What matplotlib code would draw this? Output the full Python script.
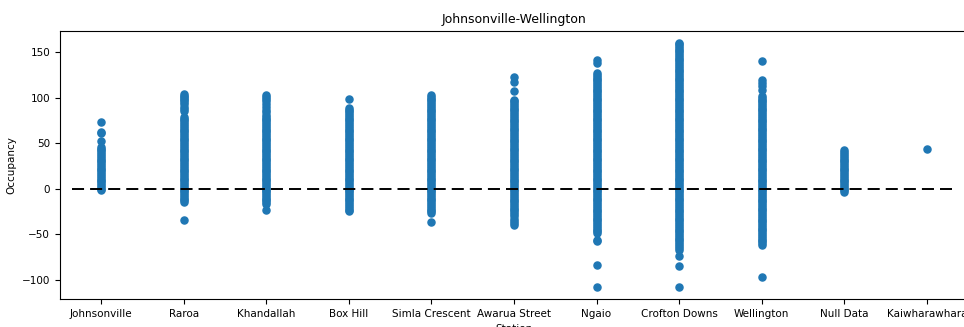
import numpy as np
import matplotlib.pyplot as plt

stations = ['Johnsonville', 'Raroa', 'Khandallah', 'Box Hill', 'Simla Crescent',
            'Awarua Street', 'Ngaio', 'Crofton Downs', 'Wellington', 'Null Data',
            'Kaiwharawhara']

# occupancy readings per station
johnsonville = [-1, 0, 2, 4, 6, 8, 10, 12, 14, 16, 18, 20, 22, 24, 26, 28, 30, 32, 34,
                36, 38, 40, 42, 44, 46, 52, 61, 62, 73]
raroa = [-34, -15, -13, -11, -9, -7, -5, -3, -1, 1, 3, 5, 7, 9, 11, 13, 15, 17, 19,
         21, 23, 25, 27, 29, 31, 33, 35, 37, 39, 41, 43, 45, 47, 49, 51, 53, 55, 57,
         59, 61, 63, 65, 67, 69, 71, 73, 75, 77, 79, 85, 88, 90, 93, 95, 97, 99, 101,
         102, 104]
khandallah = [-23, -17, -15, -13, -11, -9, -7, -5, -3, -1, 1, 3, 5, 7, 9, 11, 13, 15,
              17, 19, 21, 23, 25, 27, 29, 31, 33, 35, 37, 39, 41, 43, 45, 47, 49, 51,
              53, 55, 57, 59, 61, 63, 65, 67, 69, 71, 73, 75, 77, 79, 81, 84, 87, 90,
              93, 96, 99, 101, 103]
box_hill = [-25, -23, -21, -19, -17, -15, -13, -11, -9, -7, -5, -3, -1, 1, 3, 5, 7, 9,
            11, 13, 15, 17, 19, 21, 23, 25, 27, 29, 31, 33, 35, 37, 39, 41, 43, 45, 47,
            49, 51, 53, 55, 57, 59, 61, 63, 65, 67, 69, 71, 73, 75, 77, 79, 81, 83, 85,
            87, 89, 99]
simla_crescent = [-37, -27, -25, -23, -21, -19, -17, -15, -13, -11, -9, -7, -5, -3, -1,
                  1, 3, 5, 7, 9, 11, 13, 15, 17, 19, 21, 23, 25, 27, 29, 31, 33, 35, 37,
                  39, 41, 43, 45, 47, 49, 51, 53, 55, 57, 59, 61, 63, 65, 67, 69, 71,
                  73, 75, 77, 79, 81, 83, 85, 87, 89, 91, 93, 95, 97, 99, 101, 103]
awarua_street = [-40, -38, -36, -33, -30, -28, -26, -24, -22, -20, -18, -16, -14, -12,
                 -10, -8, -6, -4, -2, 0, 2, 4, 6, 8, 10, 12, 14, 16, 18, 20, 22, 24, 26,
                 28, 30, 32, 34, 36, 38, 40, 42, 44, 46, 48, 50, 52, 54, 56, 58, 60, 62,
                 64, 66, 68, 70, 72, 74, 76, 78, 80, 82, 84, 86, 88, 90, 92, 94, 96, 98,
                 107, 117, 123]
ngaio = [-108, -84, -58, -56, -49, -47, -45, -43, -41, -39, -37, -35, -33, -31, -29,
         -27, -25, -23, -21, -19, -17, -15, -13, -11, -9, -7, -5, -3, -1, 1, 3, 5, 7,
         9, 11, 13, 15, 17, 19, 21, 23, 25, 27, 29, 31, 33, 35, 37, 39, 41, 43, 45, 47,
         49, 51, 53, 55, 57, 59, 61, 63, 65, 67, 69, 71, 73, 75, 77, 79, 81, 83, 85, 87,
         89, 91, 93, 95, 97, 99, 101, 103, 105, 107, 109, 111, 113, 115, 117, 119, 121,
         123, 125, 127, 138, 142]
crofton_downs = [-108, -85, -74, -67, -65, -63, -61, -59, -57, -55, -53, -51, -49, -47,
                 -45, -43, -41, -39, -37, -35, -33, -31, -29, -27, -25, -23, -21, -19,
                 -17, -15, -13, -11, -9, -7, -5, -3, -1, 1, 3, 5, 7, 9, 11, 13, 15, 17,
                 19, 21, 23, 25, 27, 29, 31, 33, 35, 37, 39, 41, 43, 45, 47, 49, 51, 53,
                 55, 57, 59, 61, 63, 65, 67, 69, 71, 73, 75, 77, 79, 81, 83, 85, 87, 89,
                 91, 93, 95, 97, 99, 101, 103, 105, 107, 109, 111, 113, 115, 117, 119,
                 121, 123, 125, 127, 129, 131, 133, 135, 137, 139, 141, 143, 145, 147,
                 149, 151, 153, 155, 157, 159, 160]
wellington = [-97, -62, -60, -58, -56, -54, -52, -50, -48, -46, -44, -42, -40, -38, -36,
              -34, -32, -30, -28, -26, -24, -22, -20, -18, -16, -14, -12, -10, -8, -6,
              -4, -2, 0, 2, 4, 6, 8, 10, 12, 14, 16, 18, 20, 22, 24, 26, 28, 30, 32, 34,
              36, 38, 40, 42, 44, 46, 48, 50, 52, 54, 56, 58, 60, 62, 64, 66, 68, 70, 72,
              74, 76, 78, 80, 82, 84, 86, 88, 90, 92, 94, 96, 98, 100, 102, 108, 113,
              116, 119, 140]
null_data = [-4, -2, 0, 2, 4, 6, 8, 10, 12, 14, 16, 18, 20, 22, 24, 26, 28, 30, 32, 34,
             36, 38, 40, 42]
kaiwharawhara = [44]

occupancy = [johnsonville, raroa, khandallah, box_hill, simla_crescent, awarua_street,
             ngaio, crofton_downs, wellington, null_data, kaiwharawhara]

x = []
y = []
for name, vals in zip(stations, occupancy):
    x += [name] * len(vals)
    y += vals

fig = plt.figure(figsize=(9.64, 3.27), dpi=100)
ax = fig.add_axes([0.0622, 0.0856, 0.942, 0.8196])
ax.scatter(x, y, s=26, color='#1f77b4')
ax.set_xlim(-0.5, 10.5)
ax.hlines(0, -0.36, 10.3, colors='black', linestyles=(0, (6.2, 3.1)), linewidth=1.4)

ax.set_title('Johnsonville-Wellington', fontsize=9)
ax.set_xlabel('Station', fontsize=7.5)
ax.set_ylabel('Occupancy', fontsize=7.5)
ax.tick_params(labelsize=7.5)

plt.savefig('out.png', dpi=100)
